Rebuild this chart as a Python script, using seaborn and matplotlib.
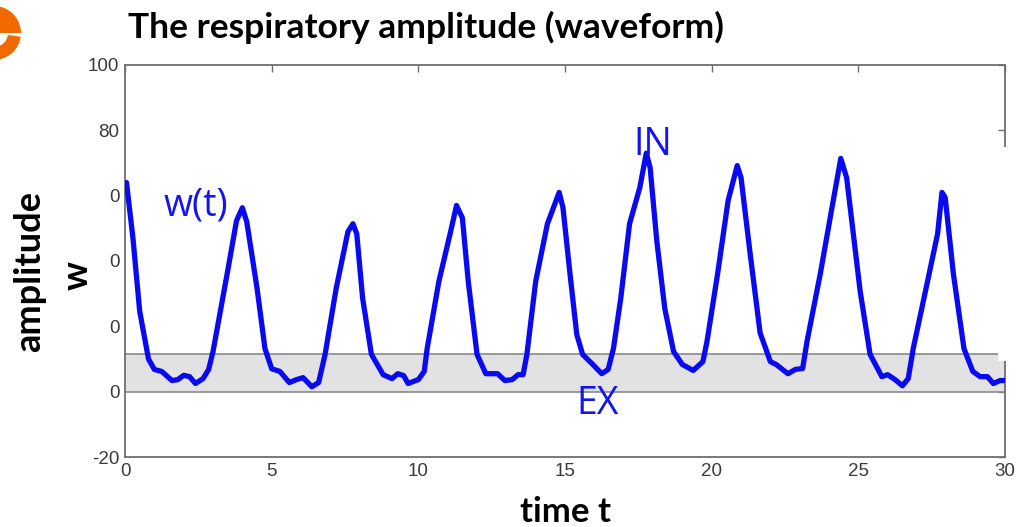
import numpy as np
import pandas as pd
import seaborn as sns
import matplotlib.pyplot as plt
from matplotlib.patches import Wedge
from matplotlib.transforms import IdentityTransform

# breathing waveform
t_vals = [0.05, 0.27, 0.5, 0.8, 1.0, 1.25, 1.6, 1.8, 2.0, 2.2, 2.4, 2.66, 2.85, 3.0,
          3.5, 3.8, 4.0, 4.15, 4.5, 4.77, 5.0, 5.28, 5.6, 5.85, 6.07, 6.37, 6.6, 6.82,
          7.2, 7.6, 7.77, 7.9, 8.1, 8.4, 8.8, 9.1, 9.3, 9.5, 9.65, 10.0, 10.2, 10.3,
          10.7, 11.1, 11.3, 11.5, 11.7, 12.0, 12.3, 12.7, 12.95, 13.2, 13.4, 13.57, 13.7,
          14.0, 14.4, 14.8, 14.93, 15.17, 15.4, 15.6, 15.95, 16.25, 16.47, 16.65,
          16.9, 17.2, 17.55, 17.77, 17.9, 18.13, 18.4, 18.7, 19.0, 19.37, 19.7, 19.84,
          20.2, 20.56, 20.87, 21.0, 21.3, 21.65, 22.0, 22.2, 22.6, 22.85, 23.1, 23.25,
          23.7, 24.1, 24.4, 24.6, 25.06, 25.4, 25.8, 26.0, 26.25, 26.5, 26.7, 26.87,
          27.34, 27.7, 27.85, 27.96, 28.24, 28.6, 28.9, 29.15, 29.4, 29.6, 29.83, 30.0]
w_vals = [64, 47, 24.6, 10, 6.8, 6.2, 3.4, 3.7, 5, 4.6, 2.5, 4, 6.8, 12.3,
          37, 52.3, 56.3, 52, 31.7, 13.2, 7, 6.2, 2.8, 3.7, 4.3, 1.5, 2.8, 11.4,
          31.7, 49, 51.4, 48.3, 28.6, 11.4, 5.2, 4, 5.5, 4.9, 2.5, 3.7, 6.2, 13.2,
          33.8, 49, 57, 53.2, 33.8, 11.4, 5.5, 5.5, 3.4, 3.7, 5.2, 5.2, 11.4,
          33.8, 51.4, 61, 56.3, 36, 17.5, 11.4, 8.3, 5.5, 6.8, 13.2,
          28.6, 51.4, 62.5, 73, 68.6, 46, 25.5, 12.3, 8.3, 6.5, 9.2, 15.4,
          36, 58.5, 69.2, 65.5, 43, 18, 9.2, 8.3, 5.5, 6.8, 7.1, 15.4,
          36, 56.3, 71.4, 65.5, 30.8, 11.4, 4.6, 5.2, 3.7, 1.8, 4, 13.2,
          33, 48.3, 61, 59.4, 36, 13.2, 6.2, 4.6, 4.6, 2.5, 3.4, 3.4]

band_low, band_high = 0, 11.4
y_ticks = [-20, 0, 20, 40, 60, 80, 100]
y_tick_labels = ["-20", "0", "0", "0", "0", "80", "100"]
x_ticks = [0, 5, 10, 15, 20, 25, 30]

df = pd.DataFrame({"t": t_vals, "w": w_vals})

sns.set_theme(style="white")
plt.rcParams["font.family"] = ["Lato", "DejaVu Sans"]

fig = plt.figure(figsize=(10.19, 5.27), dpi=100)
ax = fig.add_axes([0.1227, 0.1328, 0.8636, 0.7439])

spine_c = "#6e6e6e"
ax.axhspan(band_low, band_high, color="#e2e2e2", lw=0, zorder=0)
ax.axhline(band_low, color="#8a8a8a", lw=1.2, zorder=1)
ax.axhline(band_high, color="#8a8a8a", lw=1.2, zorder=1)

sns.lineplot(data=df, x="t", y="w", ax=ax, color="#0a0af0", lw=3.8,
             solid_joinstyle="round", solid_capstyle="round", zorder=3)

ax.set_xlim(0, 30)
ax.set_ylim(-20, 100)
ax.set_xticks(x_ticks)
ax.set_xticklabels([str(v) for v in x_ticks])
ax.set_yticks(y_ticks)
ax.set_yticklabels(y_tick_labels)
for s in ax.spines.values():
    s.set_color(spine_c)
    s.set_linewidth(1.3)
ax.tick_params(direction="in", length=5, width=1, color=spine_c, top=True, right=True,
               labelsize=13.5, labelcolor="#3a3a3a", pad=4)
for lab in ax.get_xticklabels() + ax.get_yticklabels():
    lab.set_family(["Liberation Sans", "DejaVu Sans"])

ax.set_xlabel("")
ax.set_ylabel("")

# annotations
ann_font = ["Open Sans", "DejaVu Sans"]
ax.text(1.3, 57, "w(t)", color="#1414f0", fontsize=27, family=ann_font,
        ha="left", va="center", zorder=4)
ax.text(18.0, 75.5, "IN", color="#1414f0", fontsize=27, family=ann_font,
        ha="center", va="center", zorder=4)
ax.text(16.1, -3.7, "EX", color="#1414f0", fontsize=27, family=ann_font,
        ha="center", va="center", zorder=4)

# white box that hides part of the right frame in the reference
fig.patches.append(plt.Rectangle((998 / 1019, 1 - 361 / 527), 21 / 1019, 214 / 527,
                                 transform=fig.transFigure, facecolor="white",
                                 edgecolor="none", zorder=5))
fig.text(1015 / 1019, 1 - 198 / 527, "-", fontsize=10, ha="center", va="center", color="black")
fig.text(1017 / 1019, 1 - 258 / 527, ":", fontsize=12, ha="center", va="center",
         color="black", weight="bold")

# titles
fig.text(128 / 1019, 1 - 27 / 527, "The respiratory amplitude (waveform)", fontsize=25.5,
         weight="bold", ha="left", va="center", color="black")
fig.text(566 / 1019, 1 - 512 / 527, "time t", fontsize=25, weight="bold",
         ha="center", va="center", color="black")
fig.text(30 / 1019, 1 - 272 / 527, "amplitude", fontsize=26, weight="bold",
         rotation=90, ha="center", va="center", color="black")
fig.text(77 / 1019, 1 - 275 / 527, "w", fontsize=26, weight="bold",
         rotation=90, ha="center", va="center", color="black")

# orange logo fragment in the corner (pixel coords)
orange = "#f06a00"
fig.patches.append(Wedge((-6, 527 - 33), 27, 0, 90, width=27, facecolor=orange,
                         edgecolor="none", transform=IdentityTransform()))
fig.patches.append(Wedge((-6, 527 - 33), 27, -80, -8, width=13, facecolor=orange,
                         edgecolor="none", transform=IdentityTransform()))

fig.savefig("out.png", dpi=100)
